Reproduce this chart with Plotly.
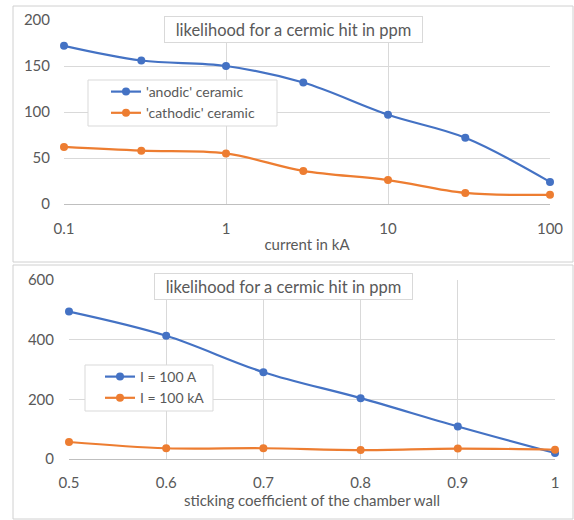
import plotly.graph_objects as go

# ---- data ----
current_kA = [0.1, 0.3, 1, 3, 10, 30, 100]
anodic = [172, 156, 150, 132, 97, 72, 24]
cathodic = [62, 58, 55, 36, 26, 12, 10]

sticking = [0.5, 0.6, 0.7, 0.8, 0.9, 1.0]
i_100A = [494, 413, 291, 204, 109, 20]
i_100kA = [57, 36, 36, 30, 35, 31]

log_ticks = [0.1, 1, 10, 100]
log_tick_text = ["0.1", "1", "10", "100"]

title_text = "likelihood for a cermic hit in ppm"

BLUE = "#4472C4"
ORANGE = "#ED7D31"
GRID = "#d9d9d9"
TXT = "#595959"
FONT = "Lato"
W, H = 574, 520


def px(x):
    return x / W


def py(y):
    return 1 - y / H


fig = go.Figure()

fig.add_trace(go.Scatter(x=current_kA, y=anodic, name="'anodic' ceramic",
                         mode="lines+markers", line=dict(color=BLUE, width=2.2, shape="spline"),
                         marker=dict(size=8, color=BLUE), cliponaxis=False,
                         xaxis="x", yaxis="y", legend="legend"))
fig.add_trace(go.Scatter(x=current_kA, y=cathodic, name="'cathodic' ceramic",
                         mode="lines+markers", line=dict(color=ORANGE, width=2.2, shape="spline"),
                         marker=dict(size=8, color=ORANGE), cliponaxis=False,
                         xaxis="x", yaxis="y", legend="legend"))
fig.add_trace(go.Scatter(x=sticking, y=i_100A, name="I = 100 A",
                         mode="lines+markers", line=dict(color=BLUE, width=2.2, shape="spline"),
                         marker=dict(size=8, color=BLUE), cliponaxis=False,
                         xaxis="x2", yaxis="y2", legend="legend2"))
fig.add_trace(go.Scatter(x=sticking, y=i_100kA, name="I = 100 kA",
                         mode="lines+markers", line=dict(color=ORANGE, width=2.2, shape="spline"),
                         marker=dict(size=8, color=ORANGE), cliponaxis=False,
                         xaxis="x2", yaxis="y2", legend="legend2"))

tickfont = dict(family=FONT, size=15, color=TXT)
axis_common = dict(showgrid=True, gridcolor=GRID, gridwidth=1, zeroline=False,
                   tickfont=tickfont, ticks="", fixedrange=True, automargin=False)
title_font = dict(family=FONT, size=15, color=TXT)

fig.update_layout(
    width=W, height=H,
    margin=dict(l=0, r=0, t=0, b=0),
    paper_bgcolor="white", plot_bgcolor="white",
    font=dict(family=FONT, color=TXT),
    xaxis=dict(domain=[px(64), px(550)], anchor="y", type="log", range=[-1, 2],
               tickvals=log_ticks, ticktext=log_tick_text,
               showline=True, linecolor="#bfbfbf", linewidth=1, ticklabelstandoff=11,
               title=dict(text="current in kA", font=title_font, standoff=3),
               **axis_common),
    yaxis=dict(domain=[py(204), py(20)], anchor="x", range=[0, 200], dtick=50,
               ticklabelstandoff=13, **axis_common),
    xaxis2=dict(domain=[px(69), px(555)], anchor="y2", range=[0.5, 1.0], dtick=0.1,
                showline=True, linecolor="#bfbfbf", linewidth=1, ticklabelstandoff=10,
                title=dict(text="sticking coefficient of the chamber wall",
                           font=title_font, standoff=2),
                **axis_common),
    yaxis2=dict(domain=[py(459), py(280)], anchor="x2", range=[0, 600], dtick=200,
                ticklabelstandoff=14, **axis_common),
    legend=dict(x=px(106), y=py(76), xanchor="left", yanchor="top",
                borderwidth=0, bgcolor="rgba(0,0,0,0)",
                font=dict(family=FONT, size=14, color=TXT), tracegroupgap=0),
    legend2=dict(x=px(100), y=py(361), xanchor="left", yanchor="top",
                 borderwidth=0, bgcolor="rgba(0,0,0,0)",
                 font=dict(family=FONT, size=14, color=TXT), tracegroupgap=0),
    showlegend=True,
)

# chart area borders
fig.add_shape(type="rect", xref="paper", yref="paper", x0=px(13), x1=px(573), y0=py(262), y1=py(6),
              line=dict(color="#d0d0d0", width=1), layer="below")
fig.add_shape(type="rect", xref="paper", yref="paper", x0=px(13), x1=px(573), y0=py(519), y1=py(265),
              line=dict(color="#d0d0d0", width=1), layer="below")

# legend boxes
fig.add_shape(type="rect", xref="paper", yref="paper", x0=px(88), x1=px(277), y0=py(126), y1=py(80),
              line=dict(color=GRID, width=1), fillcolor="white", layer="above")
fig.add_shape(type="rect", xref="paper", yref="paper", x0=px(85), x1=px(213), y0=py(411), y1=py(365),
              line=dict(color=GRID, width=1), fillcolor="white", layer="above")

# chart titles in boxes
for cx, cy in [(293.5, 29.5), (283, 286.5)]:
    fig.add_annotation(x=px(cx), y=py(cy), xref="paper", yref="paper", text=title_text,
                       showarrow=False, xanchor="center", yanchor="middle",
                       width=257, height=25, borderpad=0,
                       font=dict(family=FONT, size=16.5, color=TXT),
                       bgcolor="white", bordercolor=GRID, borderwidth=1)

fig.write_html("out.html", config={"displayModeBar": False},
               post_script="document.body.style.margin='0';document.body.style.overflow='hidden';")
